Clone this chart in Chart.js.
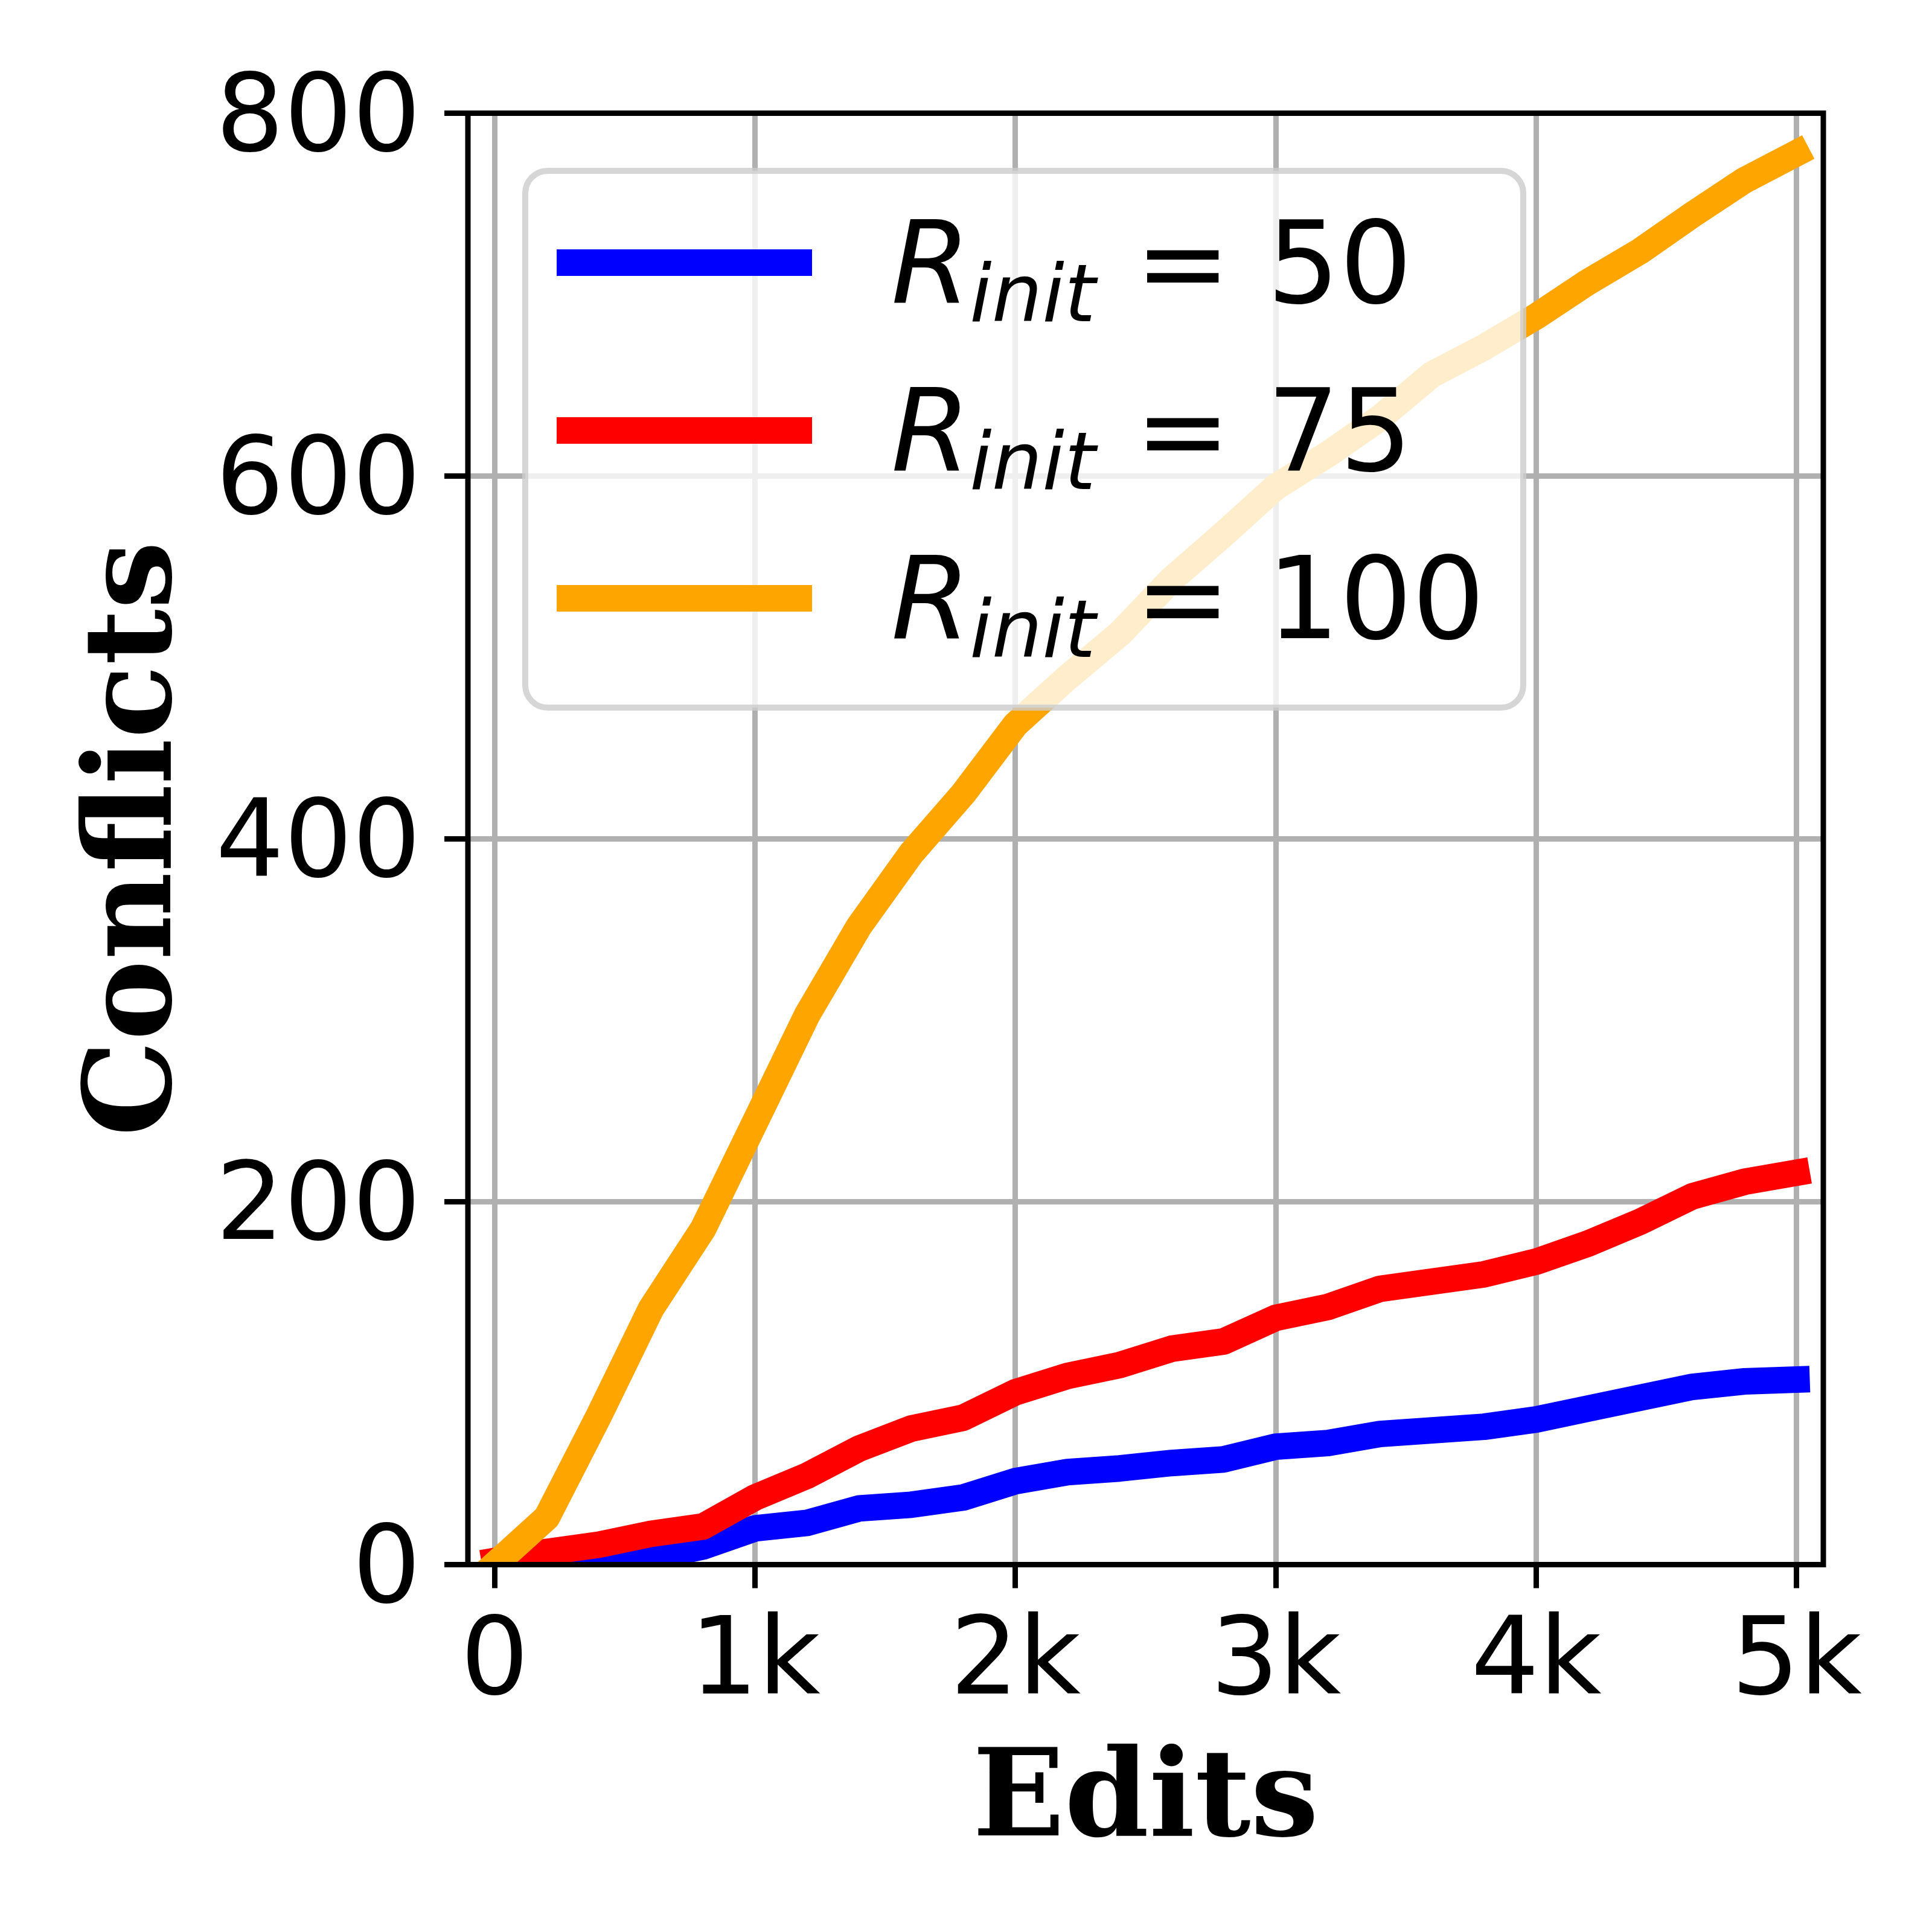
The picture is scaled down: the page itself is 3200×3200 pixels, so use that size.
<!DOCTYPE html>
<html>
<head>
<meta charset="utf-8">
<script src="https://cdn.jsdelivr.net/npm/chart.js@4.4.1/dist/chart.umd.min.js"></script>
<style>
  html, body { margin: 0; padding: 0; background: #fff; }
  canvas { display: block; }
</style>
</head>
<body>
<canvas id="conflictChart" width="3200" height="3200"></canvas>
<script>
// number of edits (x axis)
const edits = [0, 200, 400, 600, 800, 1000, 1200, 1400, 1600, 1800, 2000, 2200, 2400,
               2600, 2800, 3000, 3200, 3400, 3600, 3800, 4000, 4200, 4400, 4600, 4800, 5000];

// conflicts for each R_init
const conflictsR50  = [0, 0, 1, 4, 10, 20, 23, 31, 33, 37, 46, 51, 53, 56, 58, 65, 67, 72, 74, 76, 80, 86, 92, 98, 101, 102];
const conflictsR75  = [2, 7, 11, 17, 21, 37, 49, 64, 75, 81, 95, 104, 110, 119, 123, 136, 142, 152, 156, 160, 167, 177, 189, 203, 211, 216];
const conflictsR100 = [0, 26, 82, 141, 185, 244, 303, 352, 392, 425, 463, 489, 513, 543, 568, 594, 612, 632, 656, 671, 688, 707, 724, 744, 763, 778];

const seriesNames = ['50', '75', '100'];
const seriesColors = ['#0000ff', '#ff0000', '#ffa500'];

const xTicks = [0, 1000, 2000, 3000, 4000, 5000];
const xTickLabels = ['0', '1k', '2k', '3k', '4k', '5k'];
const yTicks = [0, 200, 400, 600, 800];

const toPoints = vals => vals.map((v, i) => ({ x: edits[i], y: v }));

// box round the plot (matplotlib spines sit over the lines)
const spinesPlugin = {
  id: 'spines',
  afterDatasetsDraw(chart) {
    const { ctx, chartArea: a } = chart;
    ctx.save();
    ctx.strokeStyle = '#000';
    ctx.lineWidth = 9;
    ctx.lineJoin = 'miter';
    ctx.strokeRect(a.left, a.top, a.right - a.left, a.bottom - a.top);
    ctx.restore();
  }
};

function roundBox(ctx, x, y, w, h, r) {
  ctx.beginPath();
  ctx.moveTo(x + r, y);
  ctx.arcTo(x + w, y, x + w, y + h, r);
  ctx.arcTo(x + w, y + h, x, y + h, r);
  ctx.arcTo(x, y + h, x, y, r);
  ctx.arcTo(x, y, x + w, y, r);
  ctx.closePath();
}

// legend with R_init written as italic R + subscript
const mathLegendPlugin = {
  id: 'mathLegend',
  afterDraw(chart) {
    const ctx = chart.ctx;
    ctx.save();
    roundBox(ctx, 870, 283, 1653, 889, 37);
    ctx.fillStyle = 'rgba(255,255,255,0.8)';
    ctx.fill();
    ctx.lineWidth = 10;
    ctx.strokeStyle = 'rgba(204,204,204,0.8)';
    ctx.stroke();

    chart.data.datasets.forEach((ds, i) => {
      const rowY = 435 + i * 278;
      ctx.strokeStyle = ds.borderColor;
      ctx.lineWidth = 44;
      ctx.lineCap = 'butt';
      ctx.beginPath();
      ctx.moveTo(922, rowY);
      ctx.lineTo(1345, rowY);
      ctx.stroke();

      const base = rowY + 66;
      ctx.fillStyle = '#000';
      ctx.textAlign = 'left';
      ctx.textBaseline = 'alphabetic';
      ctx.font = 'italic 189px "DejaVu Sans"';
      ctx.fillText('R', 1476, base);
      ctx.font = 'italic 132px "DejaVu Sans"';
      ctx.fillText('init', 1606, base + 31);
      ctx.font = '189px "DejaVu Sans"';
      ctx.fillText('= ' + seriesNames[i], 1880, base);
    });
    ctx.restore();
  }
};

const tickFont = { family: "'DejaVu Sans'", size: 178 };
const gridStyle = {
  color: '#b0b0b0',
  lineWidth: 9,
  drawTicks: true,
  tickLength: 39,
  tickColor: '#000',
  tickWidth: 9
};

const ctx = document.getElementById('conflictChart').getContext('2d');
new Chart(ctx, {
  type: 'line',
  data: {
    datasets: [
      { label: 'R_init = 50',  data: toPoints(conflictsR50),  borderColor: seriesColors[0], order: 3 },
      { label: 'R_init = 75',  data: toPoints(conflictsR75),  borderColor: seriesColors[1], order: 2 },
      { label: 'R_init = 100', data: toPoints(conflictsR100), borderColor: seriesColors[2], order: 1 }
    ].map(ds => Object.assign(ds, {
      borderWidth: 44,
      borderCapStyle: 'square',
      borderJoinStyle: 'round',
      pointRadius: 0,
      tension: 0,
      fill: false,
      clip: 0
    }))
  },
  options: {
    responsive: false,
    devicePixelRatio: 1,
    animation: false,
    layout: { padding: { left: 0, top: 187.5, right: 180, bottom: 0 } },
    plugins: {
      legend: { display: false },
      tooltip: { enabled: false }
    },
    scales: {
      x: {
        type: 'linear',
        min: -103,
        max: 5103,
        afterBuildTicks: s => { s.ticks = xTicks.map(v => ({ value: v })); },
        afterFit: s => { s.height = 608.5; },
        border: { display: false },
        grid: gridStyle,
        ticks: {
          font: tickFont,
          color: '#000',
          padding: 21,
          maxRotation: 0,
          autoSkip: false,
          callback: v => xTickLabels[xTicks.indexOf(v)]
        },
        title: {
          display: true,
          text: 'Edits',
          color: '#000',
          font: { family: "'DejaVu Serif'", weight: 'bold', size: 200 },
          padding: { top: 0, bottom: 92 }
        }
      },
      y: {
        min: 0,
        max: 800,
        afterBuildTicks: s => { s.ticks = yTicks.map(v => ({ value: v })); },
        afterFit: s => { s.width = 775; },
        border: { display: false },
        grid: gridStyle,
        ticks: {
          font: tickFont,
          color: '#000',
          padding: 39,
          labelOffset: 15,
          autoSkip: false
        },
        title: {
          display: true,
          text: 'Conflicts',
          color: '#000',
          font: { family: "'DejaVu Serif'", weight: 'bold', size: 200 },
          padding: { top: 110, bottom: 0 }
        }
      }
    }
  },
  plugins: [spinesPlugin, mathLegendPlugin]
});
</script>
</body>
</html>
